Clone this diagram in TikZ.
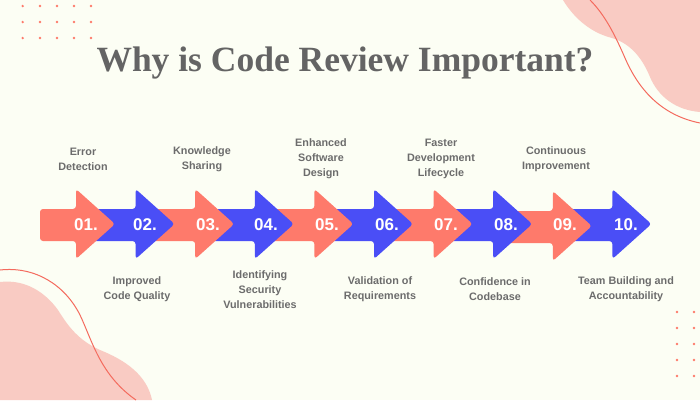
\documentclass[tikz,border=0pt]{standalone}
\usepackage{fontspec}
\setmainfont{Liberation Sans}
\newfontfamily\titlefont{Liberation Serif}
\definecolor{bgc}{HTML}{FCFEF4}
\definecolor{blobc}{HTML}{F9CBC3}
\definecolor{linec}{HTML}{F46B5E}
\definecolor{salmon}{HTML}{FE7A6B}
\definecolor{bluec}{HTML}{4A4EF6}
\definecolor{txtc}{HTML}{6C6C6C}
\definecolor{titlec}{HTML}{646464}
\tikzset{
  num/.style={font=\bfseries\fontsize{17}{17}\selectfont, text=white, anchor=base west, inner sep=0pt},
  lbl/.style={font=\bfseries\fontsize{10.8}{15}\selectfont, text=txtc, align=center, inner sep=0pt},
  dotc/.style={fill=salmon},
  curve/.style={draw=linec, line width=1pt},
}
\newcommand\myarrow[4]{%
  \fill[#4, rounded corners=3pt] (#1,209+#3) -- (#2,209+#3) -- (#2,189+#3) -- (#2+39,224+#3) -- (#2,259+#3) -- (#2,241+#3) -- (#1,241+#3) -- cycle;}
\begin{document}
\begin{tikzpicture}[x=1pt,y=-1pt]
\useasboundingbox (0,0) rectangle (700,400);
\fill[bgc] (0,0) rectangle (700,400);
% blobs
\fill[blobc] (563,0) .. controls (572,15) and (588,32) .. (612,38) .. controls (632,44) and (643,60) .. (650,77) .. controls (658,96) and (675,110) .. (700,112) -- (700,0) -- cycle;
\draw[curve] (590,0) .. controls (605,15) and (615,35) .. (625,58) .. controls (638,88) and (660,115) .. (700,123);
\fill[blobc] (0,282) .. controls (25,279) and (45,292) .. (58,310) .. controls (68,326) and (78,340) .. (100,350) .. controls (125,360) and (147,375) .. (152,400) -- (0,400) -- cycle;
\draw[curve] (0,270) .. controls (35,266) and (65,285) .. (80,315) .. controls (92,340) and (100,375) .. (136,400);
% dots
\foreach \x in {22.7,40,57,74,91} \foreach \y in {6,22,38} \fill[dotc] (\x,\y) circle (1.3);
\foreach \x in {677,694} \foreach \y in {312,328,344,360,376} \fill[dotc] (\x,\y) circle (1.3);
% title
\node[font=\titlefont\bfseries\fontsize{35.5}{35.5}\selectfont, text=titlec, anchor=base, inner sep=0pt] (title) at (345,71) {Why is Code Review Important?};
% arrows (drawn right to left)
\myarrow{556}{612.4}{0}{bluec}
\myarrow{497}{552.8}{2}{salmon}
\myarrow{437}{493.2}{0}{bluec}
\myarrow{378}{433.6}{0}{salmon}
\myarrow{318}{374}{0}{bluec}
\myarrow{258}{314.4}{0}{salmon}
\myarrow{199}{254.8}{0}{bluec}
\myarrow{139}{195.2}{0}{salmon}
\myarrow{79}{135.6}{0}{bluec}
\myarrow{40}{76}{0}{salmon}
% numbers
\node[num] (n1) at (74,230) {01.};
\node[num] (n2) at (133,230) {02.};
\node[num] (n3) at (196,230) {03.};
\node[num] (n4) at (254,230) {04.};
\node[num] (n5) at (315,230) {05.};
\node[num] (n6) at (375,230) {06.};
\node[num] (n7) at (434,230) {07.};
\node[num] (n8) at (494,230) {08.};
\node[num] (n9) at (553,230) {09.};
\node[num] (n10) at (614,230) {10.};
% labels
\node[lbl] (l1) at (83,159) {Error\\Detection};
\node[lbl] (l3) at (202,159) {Knowledge\\Sharing};
\node[lbl] (l5) at (321,159) {Enhanced\\Software\\Design};
\node[lbl] (l7) at (441,159) {Faster\\Development\\Lifecycle};
\node[lbl] (l9) at (556,159) {Continuous\\Improvement};
\node[lbl] (l2) at (137,289.5) {Improved\\Code Quality};
\node[lbl] (l4) at (260,289.5) {Identifying\\Security\\Vulnerabilities};
\node[lbl] (l6) at (380,289.5) {Validation of\\Requirements};
\node[lbl] (l8) at (495,289.5) {Confidence in\\Codebase};
\node[lbl] (l10) at (626,289.5) {Team Building and\\Accountability};
\end{tikzpicture}
\end{document}
